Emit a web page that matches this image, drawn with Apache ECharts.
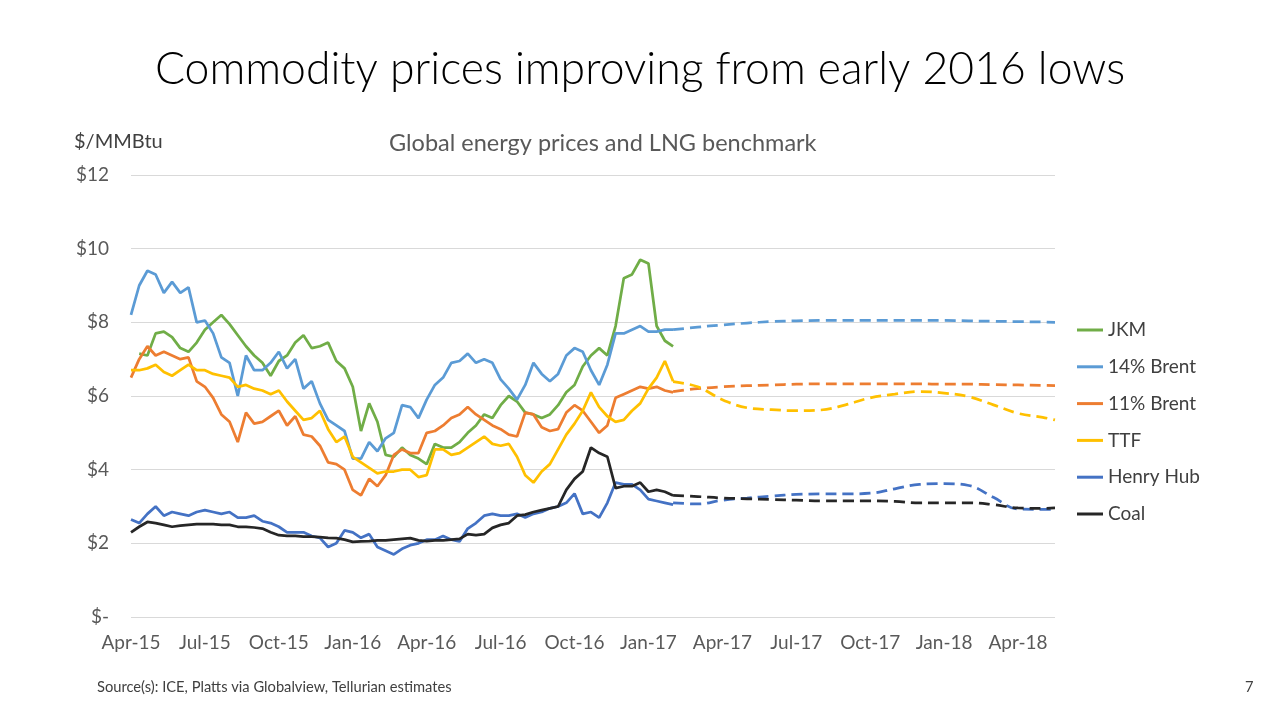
<!DOCTYPE html>
<html>
<head>
<meta charset="utf-8">
<script src="https://cdn.jsdelivr.net/npm/echarts@6/dist/echarts.min.js"></script>
<style>
html,body{margin:0;padding:0;background:#fff;}
#chart{width:1280px;height:720px;}
</style>
</head>
<body>
<div id="chart"></div>
<script>
// x-axis tick labels (every 3 months, starting Apr-15)
const tickLabels = ['Apr-15','Jul-15','Oct-15','Jan-16','Apr-16','Jul-16','Oct-16','Jan-17','Apr-17','Jul-17','Oct-17','Jan-18','Apr-18'];
const seriesNames = ['JKM','14% Brent','11% Brent','TTF','Henry Hub','Coal'];

// Historical values, sampled every ~10 days (1/3 month) from Apr-15
const jkm = [null,7.15,7.1,7.7,7.75,7.6,7.3,7.2,7.45,7.8,8.0,8.2,7.95,7.65,7.35,7.1,6.9,6.55,6.95,7.1,7.45,7.65,7.3,7.35,7.45,6.95,6.75,6.25,5.05,5.8,5.3,4.4,4.35,4.6,4.4,4.3,4.15,4.7,4.6,4.6,4.75,5.0,5.2,5.5,5.4,5.75,6.0,5.85,5.55,5.5,5.4,5.5,5.75,6.1,6.3,6.8,7.1,7.3,7.1,7.9,9.2,9.3,9.7,9.6,7.9,7.5,7.35];
const brent14 = [8.2,9.0,9.4,9.3,8.8,9.1,8.8,8.95,8.0,8.05,7.7,7.05,6.9,6.0,7.1,6.7,6.7,6.9,7.2,6.75,7.0,6.2,6.4,5.8,5.35,5.2,5.05,4.3,4.3,4.75,4.5,4.85,5.0,5.75,5.7,5.4,5.9,6.3,6.5,6.9,6.95,7.15,6.9,7.0,6.9,6.45,6.2,5.9,6.3,6.9,6.6,6.4,6.6,7.1,7.3,7.2,6.7,6.3,6.85,7.7,7.7,7.8,7.9,7.75,7.75,7.8,7.8];
const brent11 = [6.5,7.0,7.35,7.1,7.2,7.1,7.0,7.05,6.4,6.25,5.95,5.5,5.3,4.75,5.55,5.25,5.3,5.45,5.6,5.2,5.45,4.95,4.9,4.65,4.2,4.15,4.0,3.45,3.3,3.75,3.55,3.85,4.4,4.55,4.45,4.45,5.0,5.05,5.2,5.4,5.5,5.7,5.5,5.35,5.2,5.1,4.95,4.9,5.55,5.5,5.15,5.05,5.1,5.55,5.75,5.6,5.3,5.0,5.2,5.95,6.05,6.15,6.25,6.2,6.25,6.15,6.1];
const ttf = [6.7,6.7,6.75,6.85,6.65,6.55,6.7,6.85,6.7,6.7,6.6,6.55,6.5,6.25,6.3,6.2,6.15,6.05,6.15,5.85,5.6,5.35,5.4,5.6,5.1,4.75,4.9,4.35,4.2,4.05,3.9,3.95,3.95,4.0,4.0,3.8,3.85,4.55,4.55,4.4,4.45,4.6,4.75,4.9,4.7,4.65,4.7,4.35,3.85,3.65,3.95,4.15,4.55,4.95,5.25,5.6,6.1,5.7,5.45,5.3,5.35,5.6,5.8,6.2,6.5,6.95,6.4];
const henryHub = [2.65,2.55,2.8,3.0,2.75,2.85,2.8,2.75,2.85,2.9,2.85,2.8,2.85,2.7,2.7,2.75,2.6,2.55,2.45,2.3,2.3,2.3,2.2,2.15,1.9,2.0,2.35,2.3,2.15,2.25,1.9,1.8,1.7,1.85,1.95,2.0,2.1,2.1,2.2,2.1,2.05,2.4,2.55,2.75,2.8,2.75,2.75,2.8,2.7,2.8,2.85,2.95,3.0,3.1,3.35,2.8,2.85,2.7,3.1,3.65,3.6,3.6,3.45,3.2,3.15,3.1,3.05];
const coal = [2.3,2.45,2.58,2.55,2.5,2.45,2.48,2.5,2.52,2.52,2.52,2.5,2.5,2.45,2.45,2.43,2.4,2.3,2.22,2.2,2.2,2.18,2.18,2.17,2.15,2.14,2.1,2.04,2.05,2.06,2.08,2.08,2.1,2.12,2.14,2.08,2.06,2.08,2.08,2.1,2.12,2.25,2.22,2.25,2.42,2.5,2.55,2.75,2.78,2.85,2.9,2.95,3.0,3.45,3.75,3.95,4.6,4.45,4.35,3.5,3.55,3.55,3.65,3.4,3.45,3.4,3.3];

// Forward (estimated) curves, monthly, months since Apr-15
const fwdMonths = [22,23,24,25,26,27,28,29,30,31,32,33,34,35,36,37,37.5];
const brent14F = [7.8,7.87,7.93,7.98,8.02,8.04,8.05,8.05,8.05,8.05,8.05,8.05,8.04,8.03,8.02,8.01,8.0];
const brent11F = [6.12,6.2,6.25,6.28,6.3,6.32,6.33,6.33,6.33,6.33,6.33,6.32,6.32,6.31,6.3,6.29,6.28];
const ttfF = [6.39,6.25,5.9,5.68,5.63,5.6,5.62,5.76,5.95,6.05,6.12,6.08,5.98,5.76,5.53,5.42,5.35];
const henryHubF = [3.1,3.07,3.17,3.23,3.28,3.33,3.34,3.34,3.36,3.48,3.6,3.62,3.57,3.25,2.93,2.92,2.93];
const coalF = [3.3,3.27,3.23,3.21,3.19,3.17,3.15,3.15,3.15,3.14,3.1,3.1,3.1,3.05,2.96,2.95,2.96];

const colors = {'JKM':'#70AD47','14% Brent':'#5B9BD5','11% Brent':'#ED7D31','TTF':'#FFC000','Henry Hub':'#4472C4','Coal':'#262626'};

const histMonths = jkm.map((_, i) => i / 3);
const zip = (xs, ys) => xs.map((x, i) => [x, ys[i]]);

function hist(name, vals) {
  return {name, type:'line', data: zip(histMonths, vals), showSymbol:false, symbol:'none',
    lineStyle:{color:colors[name], width:2.75}, itemStyle:{color:colors[name]}, z:3};
}
function fwd(name, vals) {
  return {name, type:'line', data: zip(fwdMonths, vals), showSymbol:false, symbol:'none', smooth:0.4,
    lineStyle:{color:colors[name], width:2.75, type:[11,6]}, itemStyle:{color:colors[name]}, z:2};
}

const chart = echarts.init(document.getElementById('chart'), null, {renderer:'canvas'});
const FONT = 'Lato';
chart.setOption({
  animation:false,
  backgroundColor:'#ffffff',
  title:[
    {text:'Commodity prices improving from early 2016 lows', left:'center', top:47, padding:0,
      textStyle:{fontFamily:FONT, fontWeight:300, fontSize:44.5, color:'#000000'}},
    {text:'Global energy prices and LNG benchmark', left:389, top:131, padding:0,
      textStyle:{fontFamily:FONT, fontWeight:'normal', fontSize:23.5, color:'#595959'}},
    {text:'$/MMBtu', left:74, top:132, padding:0,
      textStyle:{fontFamily:FONT, fontWeight:'normal', fontSize:20, color:'#404040'}},
    {text:'Source(s): ICE, Platts via Globalview, Tellurian estimates', left:97, top:680, padding:0,
      textStyle:{fontFamily:FONT, fontWeight:'normal', fontSize:14.7, color:'#404040'}},
    {text:'7', left:1245, top:680, padding:0,
      textStyle:{fontFamily:FONT, fontWeight:'normal', fontSize:14.7, color:'#404040'}}
  ],
  legend:{
    orient:'vertical', left:1077, top:320, padding:0, itemWidth:26, itemHeight:3, itemGap:16.8,
    icon:'rect', data:seriesNames,
    textStyle:{fontFamily:FONT, fontSize:19, color:'#404040', lineHeight:20}
  },
  grid:{left:131, right:225, top:175, bottom:103, containLabel:false},
  xAxis:{
    type:'value', min:0, max:37.5, interval:3,
    axisLine:{show:false}, axisTick:{show:false}, splitLine:{show:false},
    axisLabel:{margin:16, fontFamily:FONT, fontSize:19, color:'#595959', showMaxLabel:false,
      formatter:(v) => tickLabels[Math.round(v/3)] || ''}
  },
  yAxis:{
    type:'value', min:0, max:12, interval:2,
    axisLine:{show:false}, axisTick:{show:false},
    splitLine:{lineStyle:{color:'#d9d9d9', width:1}},
    axisLabel:{margin:22, fontFamily:FONT, fontSize:19, color:'#595959',
      formatter:(v) => v === 0 ? '$-' : '$' + v}
  },
  series:[
    hist('JKM', jkm),
    hist('14% Brent', brent14), fwd('14% Brent', brent14F),
    hist('11% Brent', brent11), fwd('11% Brent', brent11F),
    hist('TTF', ttf), fwd('TTF', ttfF),
    hist('Henry Hub', henryHub), fwd('Henry Hub', henryHubF),
    hist('Coal', coal), fwd('Coal', coalF)
  ]
});
</script>
</body>
</html>
